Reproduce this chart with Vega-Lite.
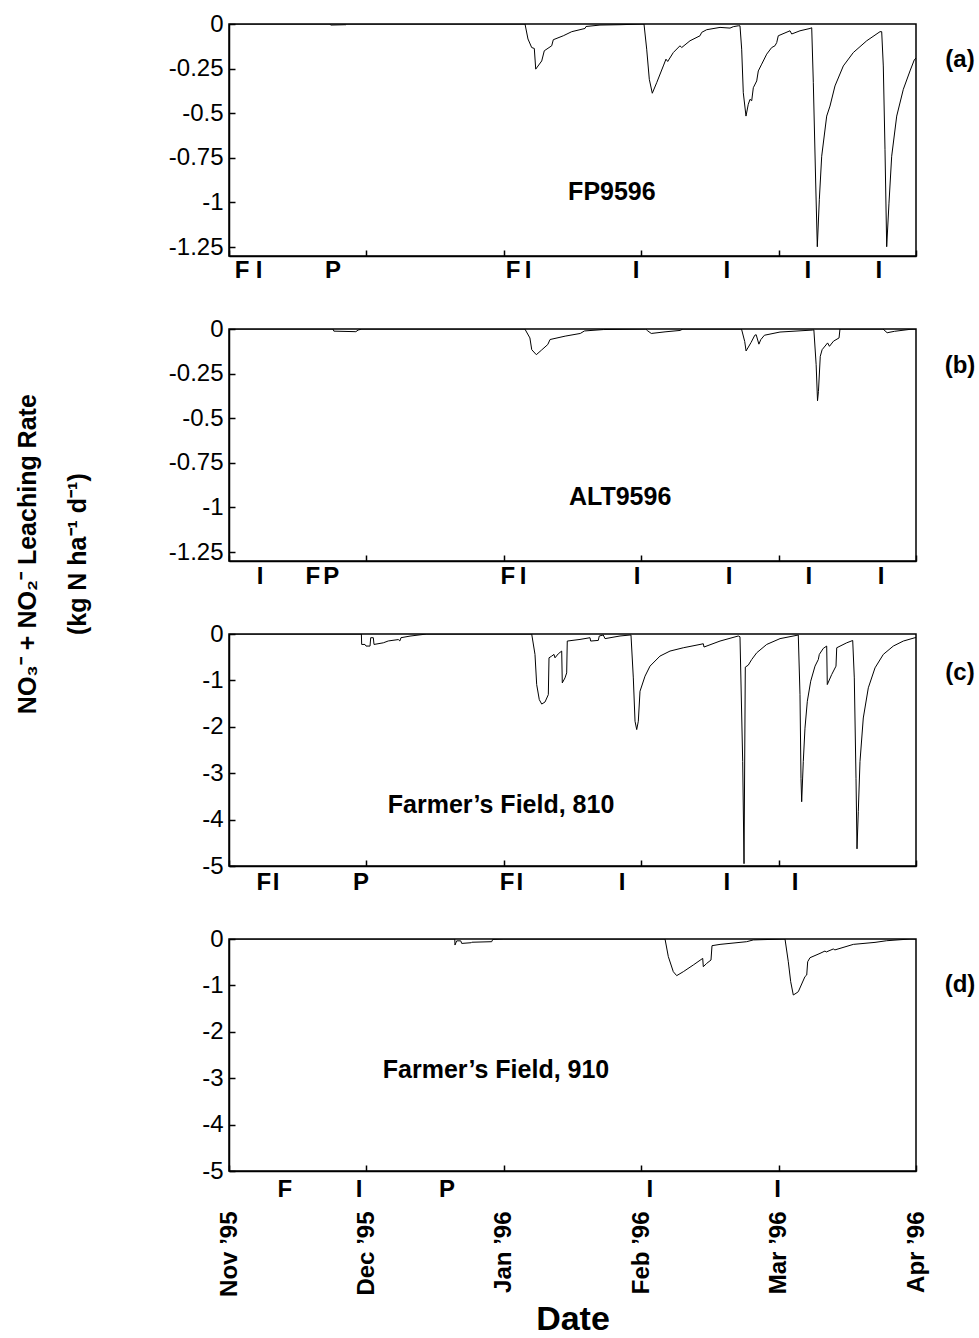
{
  "$schema": "https://vega.github.io/schema/vega-lite/v6.json",
  "background": "white",
  "padding": {"left": 15, "top": 11, "right": 4, "bottom": 4},
  "bounds": "flush",
  "spacing": 73,
  "resolve": {"scale": {"y": "independent"}},
  "config": {
    "font": "Liberation Sans",
    "view": {"stroke": "black", "strokeWidth": 1.5},
    "axis": {"grid": false, "domainColor": "black", "domainWidth": 1.5, "tickColor": "black", "tickWidth": 1.5, "labelColor": "black", "titleColor": "black", "labelFont": "Liberation Sans", "titleFont": "Liberation Sans"},
    "text": {"font": "Liberation Sans", "color": "black"}
  },
  "title": {
    "text": ["NO₃⁻ + NO₂⁻ Leaching Rate", "(kg N ha⁻¹ d⁻¹)"],
    "orient": "left", "anchor": "middle", "fontSize": 25, "fontWeight": "bold", "lineHeight": 50, "offset": 77, "dx": 120, "color": "black", "font": "Liberation Sans"
  },
  "datasets": {
    "lineA": [
      {"day":0,"rate":0},{"day":22.0,"rate":0},{"day":22.2,"rate":-0.006},{"day":25.5,"rate":-0.004},{"day":25.7,"rate":0},
      {"day":64.63,"rate":0},{"day":65.28,"rate":-0.084},{"day":66.09,"rate":-0.132},{"day":66.66,"rate":-0.137},{"day":66.97,"rate":-0.253},{"day":68.28,"rate":-0.207},{"day":68.84,"rate":-0.15},{"day":70.46,"rate":-0.122},{"day":70.81,"rate":-0.088},{"day":72.99,"rate":-0.066},{"day":74.83,"rate":-0.043},{"day":77.73,"rate":-0.025},{"day":77.95,"rate":-0.014},{"day":81.0,"rate":-0.006},{"day":85.37,"rate":-0.004},{"day":90.39,"rate":0},
      {"day":90.61,"rate":0},{"day":91.2,"rate":-0.141},{"day":91.77,"rate":-0.31},{"day":92.42,"rate":-0.388},{"day":93.38,"rate":-0.329},{"day":94.83,"rate":-0.235},{"day":95.41,"rate":-0.197},{"day":95.79,"rate":-0.21},{"day":97.01,"rate":-0.16},{"day":98.47,"rate":-0.122},{"day":98.84,"rate":-0.132},{"day":100.66,"rate":-0.094},{"day":102.84,"rate":-0.066},{"day":103.21,"rate":-0.047},{"day":104.3,"rate":-0.032},{"day":107.21,"rate":-0.019},{"day":109.39,"rate":-0.023},{"day":110.11,"rate":-0.015},{"day":111.2,"rate":-0.01},{"day":111.57,"rate":-0.01},
      {"day":111.94,"rate":-0.141},{"day":112.29,"rate":-0.385},{"day":112.88,"rate":-0.516},{"day":113.38,"rate":-0.45},{"day":113.76,"rate":-0.422},{"day":114.13,"rate":-0.43},{"day":114.48,"rate":-0.357},{"day":115.22,"rate":-0.319},{"day":115.57,"rate":-0.263},{"day":116.31,"rate":-0.225},{"day":117.4,"rate":-0.169},{"day":118.49,"rate":-0.132},{"day":119.21,"rate":-0.122},{"day":119.59,"rate":-0.104},{"day":119.93,"rate":-0.066},{"day":122.49,"rate":-0.038},{"day":122.86,"rate":-0.056},{"day":124.67,"rate":-0.038},{"day":126.86,"rate":-0.025},{"day":127.23,"rate":-0.021},
      {"day":127.58,"rate":-0.329},{"day":128.1,"rate":-0.891},{"day":128.45,"rate":-1.248},{"day":128.89,"rate":-0.985},{"day":129.41,"rate":-0.741},{"day":130.5,"rate":-0.516},{"day":131.22,"rate":-0.46},{"day":132.31,"rate":-0.347},{"day":134.13,"rate":-0.235},{"day":136.31,"rate":-0.16},{"day":139.24,"rate":-0.094},{"day":142.14,"rate":-0.043},{"day":142.51,"rate":-0.043},
      {"day":142.86,"rate":-0.235},{"day":143.23,"rate":-0.702},{"day":143.6,"rate":-1.248},{"day":144.1,"rate":-1.004},{"day":144.69,"rate":-0.741},{"day":145.79,"rate":-0.516},{"day":147.23,"rate":-0.366},{"day":148.69,"rate":-0.263},{"day":149.63,"rate":-0.201},{"day":150,"rate":-0.19}
    ],
    "lineB": [
      {"day":0,"rate":0},{"day":22.7,"rate":0},{"day":22.9,"rate":-0.012},{"day":27.7,"rate":-0.015},{"day":28.2,"rate":-0.006},{"day":29.0,"rate":0},
      {"day":64.6,"rate":0},{"day":65.7,"rate":-0.05},{"day":66.1,"rate":-0.116},{"day":67.1,"rate":-0.144},{"day":68.2,"rate":-0.119},{"day":69.6,"rate":-0.087},{"day":70.1,"rate":-0.059},{"day":73.4,"rate":-0.04},{"day":76.7,"rate":-0.025},{"day":77.6,"rate":-0.011},{"day":81.8,"rate":-0.003},
      {"day":91.0,"rate":0},{"day":91.4,"rate":-0.01},{"day":92.2,"rate":-0.025},{"day":95.2,"rate":-0.016},{"day":98.5,"rate":-0.008},{"day":99.1,"rate":0},
      {"day":111.9,"rate":0},{"day":112.6,"rate":-0.07},{"day":112.9,"rate":-0.123},{"day":114.0,"rate":-0.075},{"day":114.8,"rate":-0.035},{"day":115.1,"rate":-0.032},{"day":115.7,"rate":-0.085},{"day":116.1,"rate":-0.06},{"day":116.9,"rate":-0.035},{"day":120.3,"rate":-0.017},{"day":127.4,"rate":-0.006},
      {"day":127.7,"rate":-0.005},{"day":128.2,"rate":-0.2},{"day":128.5,"rate":-0.402},{"day":128.7,"rate":-0.35},{"day":129.1,"rate":-0.153},{"day":129.5,"rate":-0.116},{"day":130.7,"rate":-0.078},{"day":131.1,"rate":-0.097},{"day":132.0,"rate":-0.068},{"day":133.2,"rate":-0.05},{"day":133.4,"rate":0},
      {"day":142.8,"rate":0},{"day":143.7,"rate":-0.021},{"day":145.3,"rate":-0.013},{"day":148.7,"rate":-0.002},{"day":150,"rate":0}
    ],
    "lineC": [
      {"day":0,"rate":-4.4},{"day":0.1,"rate":0},{"day":28.9,"rate":0},{"day":28.97,"rate":-0.225},{"day":29.69,"rate":-0.225},{"day":29.91,"rate":-0.26},{"day":30.79,"rate":-0.26},{"day":30.94,"rate":-0.08},{"day":31.51,"rate":-0.08},{"day":31.66,"rate":-0.225},{"day":33.69,"rate":-0.19},{"day":34.78,"rate":-0.15},{"day":36.97,"rate":-0.12},{"day":37.3,"rate":-0.15},{"day":37.55,"rate":-0.08},{"day":39.52,"rate":-0.045},{"day":43.17,"rate":0},
      {"day":66.09,"rate":0},{"day":66.81,"rate":-0.44},{"day":67.18,"rate":-1.09},{"day":67.75,"rate":-1.415},{"day":68.28,"rate":-1.51},{"day":69.0,"rate":-1.465},{"day":69.72,"rate":-1.307},{"day":69.87,"rate":-0.513},{"day":70.46,"rate":-0.476},{"day":70.96,"rate":-0.44},{"day":71.18,"rate":-0.513},{"day":71.9,"rate":-0.426},{"day":72.64,"rate":-0.368},{"day":72.77,"rate":-1.054},{"day":73.36,"rate":-0.946},{"day":73.73,"rate":-0.838},{"day":73.86,"rate":-0.152},{"day":76.64,"rate":-0.117},{"day":78.82,"rate":-0.08},{"day":78.97,"rate":-0.152},{"day":80.63,"rate":-0.138},{"day":80.85,"rate":-0.043},{"day":81.72,"rate":-0.022},{"day":82.1,"rate":-0.1},{"day":85.37,"rate":-0.043},{"day":87.55,"rate":-0.022},
      {"day":87.77,"rate":-0.022},{"day":88.28,"rate":-0.946},{"day":88.65,"rate":-1.88},{"day":89.02,"rate":-2.06},{"day":89.37,"rate":-1.88},{"day":89.74,"rate":-1.234},{"day":90.83,"rate":-0.909},{"day":91.92,"rate":-0.693},{"day":94.1,"rate":-0.476},{"day":96.29,"rate":-0.368},{"day":99.19,"rate":-0.297},{"day":102.84,"rate":-0.225},{"day":103.56,"rate":-0.21},{"day":103.71,"rate":-0.281},{"day":107.21,"rate":-0.152},{"day":111.2,"rate":-0.043},
      {"day":111.57,"rate":-0.06},{"day":112.16,"rate":-2.75},{"day":112.45,"rate":-4.95},{"day":112.73,"rate":-0.714},{"day":113.38,"rate":-0.671},{"day":114.13,"rate":-0.55},{"day":115.22,"rate":-0.405},{"day":117.4,"rate":-0.225},{"day":120.31,"rate":-0.1},{"day":124.3,"rate":-0.022},
      {"day":124.67,"rate":-1.307},{"day":124.89,"rate":-3.11},{"day":125.04,"rate":-3.615},{"day":125.39,"rate":-2.75},{"day":125.76,"rate":-2.03},{"day":126.27,"rate":-1.45},{"day":127.01,"rate":-1.017},{"day":127.95,"rate":-0.693},{"day":128.67,"rate":-0.55},{"day":128.89,"rate":-0.44},{"day":129.76,"rate":-0.31},{"day":130.5,"rate":-0.26},{"day":130.63,"rate":-1.09},{"day":131.59,"rate":-0.874},{"day":132.53,"rate":-0.693},{"day":132.69,"rate":-0.297},{"day":134.87,"rate":-0.19},{"day":136.18,"rate":-0.14},
      {"day":136.53,"rate":-0.946},{"day":136.9,"rate":-3.11},{"day":137.12,"rate":-4.63},{"day":137.4,"rate":-3.83},{"day":137.77,"rate":-2.75},{"day":138.49,"rate":-1.81},{"day":139.59,"rate":-1.16},{"day":141.05,"rate":-0.73},{"day":142.86,"rate":-0.44},{"day":145.04,"rate":-0.26},{"day":147.23,"rate":-0.152},{"day":149.78,"rate":-0.08},{"day":150,"rate":-0.075}
    ],
    "lineD": [
      {"day":0,"rate":0},{"day":49.3,"rate":0},{"day":49.34,"rate":-0.13},{"day":49.72,"rate":-0.04},{"day":50.6,"rate":-0.04},{"day":50.81,"rate":-0.095},{"day":52.9,"rate":-0.08},{"day":53.0,"rate":-0.07},{"day":57.36,"rate":-0.058},{"day":57.58,"rate":-0.01},{"day":60,"rate":0},
      {"day":95.2,"rate":0},{"day":95.92,"rate":-0.38},{"day":97.01,"rate":-0.705},{"day":97.75,"rate":-0.79},{"day":99.19,"rate":-0.705},{"day":101.38,"rate":-0.56},{"day":103.43,"rate":-0.418},{"day":103.56,"rate":-0.597},{"day":104.3,"rate":-0.526},{"day":105.24,"rate":-0.453},{"day":105.46,"rate":-0.144},{"day":107.21,"rate":-0.116},{"day":113.03,"rate":-0.058},{"day":114.48,"rate":-0.02},
      {"day":121.4,"rate":0},{"day":122.12,"rate":-0.49},{"day":122.64,"rate":-0.92},{"day":123.21,"rate":-1.207},{"day":123.8,"rate":-1.17},{"day":124.3,"rate":-1.136},{"day":125.76,"rate":-0.81},{"day":126.14,"rate":-0.776},{"day":126.35,"rate":-0.49},{"day":126.86,"rate":-0.403},{"day":129.04,"rate":-0.31},{"day":130.13,"rate":-0.259},{"day":130.4,"rate":-0.28},{"day":131.94,"rate":-0.215},{"day":132.3,"rate":-0.235},{"day":136.31,"rate":-0.116},{"day":141.05,"rate":-0.073},{"day":143.6,"rate":-0.037},{"day":148.69,"rate":0},{"day":150,"rate":0}
    ],
    "eventsA": [{"day":2.84,"event":"F"},{"day":6.55,"event":"I"},{"day":22.7,"event":"P"},{"day":62.0,"event":"F"},{"day":65.3,"event":"I"},{"day":88.9,"event":"I"},{"day":108.7,"event":"I"},{"day":126.4,"event":"I"},{"day":141.9,"event":"I"}],
    "eventsB": [{"day":6.8,"event":"I"},{"day":18.3,"event":"F"},{"day":22.3,"event":"P"},{"day":60.9,"event":"F"},{"day":64.2,"event":"I"},{"day":89.1,"event":"I"},{"day":109.2,"event":"I"},{"day":126.6,"event":"I"},{"day":142.4,"event":"I"}],
    "eventsC": [{"day":7.6,"event":"F"},{"day":10.3,"event":"I"},{"day":28.8,"event":"P"},{"day":60.7,"event":"F"},{"day":63.5,"event":"I"},{"day":85.8,"event":"I"},{"day":108.7,"event":"I"},{"day":123.6,"event":"I"}],
    "eventsD": [{"day":12.2,"event":"F"},{"day":28.4,"event":"I"},{"day":47.6,"event":"P"},{"day":91.9,"event":"I"},{"day":119.8,"event":"I"}]
  },
  "vconcat": [
    {
      "width": 687, "height": 232,
      "layer": [
        {"data": {"name": "lineA"}, "mark": {"type": "line", "color": "black", "strokeWidth": 1, "clip": true},
         "encoding": {
           "x": {"field": "day", "type": "quantitative", "scale": {"domain": [0, 150], "nice": false, "zero": false}, "axis": {"title": null, "values": [0, 30, 60, 90, 120, 150], "labels": false, "tickSize": -6}},
           "y": {"field": "rate", "type": "quantitative", "scale": {"domain": [-1.3, 0], "nice": false, "zero": false}, "axis": {"title": null, "values": [0, -0.25, -0.5, -0.75, -1, -1.25], "labelExpr": "'' + datum.value", "labelFontSize": 24, "labelPadding": 12, "tickSize": -6}}}},
        {"data": {"name": "eventsA"}, "mark": {"type": "text", "fontSize": 24, "fontWeight": "bold", "align": "center", "baseline": "middle"},
         "encoding": {"x": {"field": "day", "type": "quantitative"}, "y": {"datum": -1.383}, "text": {"field": "event"}}},
        {"data": {"values": [{"name": "FP9596"}]}, "mark": {"type": "text", "fontSize": 25, "fontWeight": "bold", "align": "center", "baseline": "middle"},
         "encoding": {"x": {"datum": 83.6}, "y": {"datum": -0.94}, "text": {"field": "name"}}},
        {"data": {"values": [{"tag": "(a)"}]}, "mark": {"type": "text", "fontSize": 24, "fontWeight": "bold", "align": "center", "baseline": "middle"},
         "encoding": {"x": {"datum": 159.6}, "y": {"datum": -0.204}, "text": {"field": "tag"}}}
      ]
    },
    {
      "width": 687, "height": 232,
      "layer": [
        {"data": {"name": "lineB"}, "mark": {"type": "line", "color": "black", "strokeWidth": 1, "clip": true},
         "encoding": {
           "x": {"field": "day", "type": "quantitative", "scale": {"domain": [0, 150], "nice": false, "zero": false}, "axis": {"title": null, "values": [0, 30, 60, 90, 120, 150], "labels": false, "tickSize": -6}},
           "y": {"field": "rate", "type": "quantitative", "scale": {"domain": [-1.3, 0], "nice": false, "zero": false}, "axis": {"title": null, "values": [0, -0.25, -0.5, -0.75, -1, -1.25], "labelExpr": "'' + datum.value", "labelFontSize": 24, "labelPadding": 12, "tickSize": -6}}}},
        {"data": {"name": "eventsB"}, "mark": {"type": "text", "fontSize": 24, "fontWeight": "bold", "align": "center", "baseline": "middle"},
         "encoding": {"x": {"field": "day", "type": "quantitative"}, "y": {"datum": -1.39}, "text": {"field": "event"}}},
        {"data": {"values": [{"name": "ALT9596"}]}, "mark": {"type": "text", "fontSize": 25, "fontWeight": "bold", "align": "center", "baseline": "middle"},
         "encoding": {"x": {"datum": 85.4}, "y": {"datum": -0.94}, "text": {"field": "name"}}},
        {"data": {"values": [{"tag": "(b)"}]}, "mark": {"type": "text", "fontSize": 24, "fontWeight": "bold", "align": "center", "baseline": "middle"},
         "encoding": {"x": {"datum": 159.6}, "y": {"datum": -0.21}, "text": {"field": "tag"}}}
      ]
    },
    {
      "width": 687, "height": 232,
      "layer": [
        {"data": {"name": "lineC"}, "mark": {"type": "line", "color": "black", "strokeWidth": 1, "clip": true},
         "encoding": {
           "x": {"field": "day", "type": "quantitative", "scale": {"domain": [0, 150], "nice": false, "zero": false}, "axis": {"title": null, "values": [0, 30, 60, 90, 120, 150], "labels": false, "tickSize": -6}},
           "y": {"field": "rate", "type": "quantitative", "scale": {"domain": [-5, 0], "nice": false, "zero": false}, "axis": {"title": null, "values": [0, -1, -2, -3, -4, -5], "labelExpr": "'' + datum.value", "labelFontSize": 24, "labelPadding": 12, "tickSize": -6}}}},
        {"data": {"name": "eventsC"}, "mark": {"type": "text", "fontSize": 24, "fontWeight": "bold", "align": "center", "baseline": "middle"},
         "encoding": {"x": {"field": "day", "type": "quantitative"}, "y": {"datum": -5.36}, "text": {"field": "event"}}},
        {"data": {"values": [{"name": "Farmer’s Field, 810"}]}, "mark": {"type": "text", "fontSize": 25, "fontWeight": "bold", "align": "center", "baseline": "middle"},
         "encoding": {"x": {"datum": 59.4}, "y": {"datum": -3.69}, "text": {"field": "name"}}},
        {"data": {"values": [{"tag": "(c)"}]}, "mark": {"type": "text", "fontSize": 24, "fontWeight": "bold", "align": "center", "baseline": "middle"},
         "encoding": {"x": {"datum": 159.6}, "y": {"datum": -0.84}, "text": {"field": "tag"}}}
      ]
    },
    {
      "width": 687, "height": 232,
      "layer": [
        {"data": {"name": "lineD"}, "mark": {"type": "line", "color": "black", "strokeWidth": 1, "clip": true},
         "encoding": {
           "x": {"field": "day", "type": "quantitative", "scale": {"domain": [0, 150], "nice": false, "zero": false}, "axis": {"title": "Date", "values": [0, 30, 60, 90, 120, 150], "labelExpr": "datum.value == 0 ? 'Nov ’95' : datum.value == 30 ? 'Dec ’95' : datum.value == 60 ? 'Jan ’96' : datum.value == 90 ? 'Feb ’96' : datum.value == 120 ? 'Mar ’96' : 'Apr ’96'", "labelAngle": 270, "labelFontSize": 24, "labelFontWeight": "bold", "labelPadding": 46, "labelOverlap": false, "labelFlush": false, "tickSize": -6, "titleFontSize": 34, "titleFontWeight": "bold", "titlePadding": 6}},
           "y": {"field": "rate", "type": "quantitative", "scale": {"domain": [-5, 0], "nice": false, "zero": false}, "axis": {"title": null, "values": [0, -1, -2, -3, -4, -5], "labelExpr": "'' + datum.value", "labelFontSize": 24, "labelPadding": 12, "tickSize": -6}}}},
        {"data": {"name": "eventsD"}, "mark": {"type": "text", "fontSize": 24, "fontWeight": "bold", "align": "center", "baseline": "middle"},
         "encoding": {"x": {"field": "day", "type": "quantitative"}, "y": {"datum": -5.4}, "text": {"field": "event"}}},
        {"data": {"values": [{"name": "Farmer’s Field, 910"}]}, "mark": {"type": "text", "fontSize": 25, "fontWeight": "bold", "align": "center", "baseline": "middle"},
         "encoding": {"x": {"datum": 58.3}, "y": {"datum": -2.82}, "text": {"field": "name"}}},
        {"data": {"values": [{"tag": "(d)"}]}, "mark": {"type": "text", "fontSize": 24, "fontWeight": "bold", "align": "center", "baseline": "middle"},
         "encoding": {"x": {"datum": 159.6}, "y": {"datum": -1.0}, "text": {"field": "tag"}}}
      ]
    }
  ]
}
